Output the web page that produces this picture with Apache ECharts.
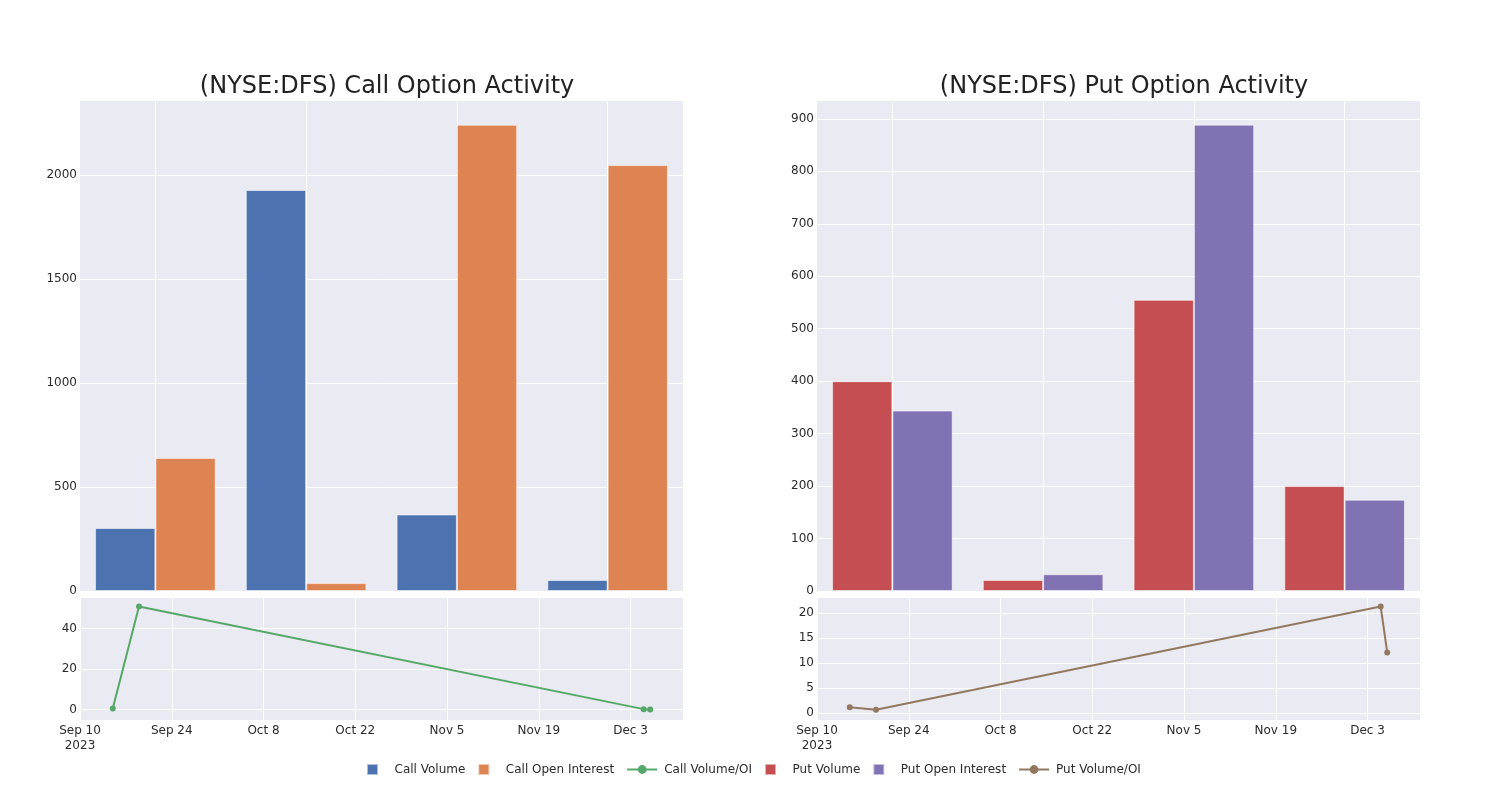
<!DOCTYPE html>
<html><head><meta charset="utf-8">
<script src="https://cdn.jsdelivr.net/npm/echarts@6/dist/echarts.min.js"></script>
<style>html,body{margin:0;padding:0;background:#fff}#c{width:1500px;height:800px}</style>
</head><body><div id="c"></div>
<script>
// ---- data ----
const groups = ['G1', 'G2', 'G3', 'G4'];
const callVolume = [303, 1928, 368, 53];
const callOpenInterest = [640, 38, 2242, 2048];
const putVolume = [400, 21, 555, 200];
const putOpenInterest = [344, 32, 889, 174];
const ratioDates = ['2023-09-15', '2023-09-19', '2023-12-05', '2023-12-06'];
const callVolOI = [0.47, 50.8, 0.16, 0.03];
const putVolOI = [1.15, 0.65, 21.3, 12.1];
const xStart = '2023-09-10';
const xEnd = '2023-12-11';
const titles = ['(NYSE:DFS) Call Option Activity', '(NYSE:DFS) Put Option Activity'];

// ---- build ----
const DAY = 86400000;
const ts = d => Date.parse(d + 'T00:00:00Z');
const MONTHS = ['Jan','Feb','Mar','Apr','May','Jun','Jul','Aug','Sep','Oct','Nov','Dec'];
const FONT = '"DejaVu Sans", sans-serif';
const BG = '#EAEAF2';
const TXT = '#2b2b2b';

const chart = echarts.init(document.getElementById('c'), null, {renderer: 'canvas'});

function dateLabel(v) {
  const d = new Date(v);
  const s = MONTHS[d.getUTCMonth()] + ' ' + d.getUTCDate();
  return v === ts(xStart) ? s + '\n' + d.getUTCFullYear() : s;
}

const grids = [
  {left: 80, width: 603, top: 100, height: 491},
  {left: 80, width: 603, top: 597, height: 123},
  {left: 817, width: 603, top: 100, height: 491},
  {left: 817, width: 603, top: 597, height: 123}
].map(g => Object.assign({backgroundColor: BG, show: true, borderWidth: 0, containLabel: false}, g));

const splitWhite = {show: true, lineStyle: {color: '#ffffff', width: 1}};
const lab = extra => Object.assign({color: TXT, fontSize: 12, fontFamily: FONT, margin: 3,
  showMaxLabel: false, formatter: v => String(v)}, extra || {});

const barX = gi => ({
  type: 'category', gridIndex: gi, data: groups, boundaryGap: true,
  axisLine: {show: false}, axisTick: {show: false, alignWithLabel: true}, axisLabel: {show: false},
  splitLine: Object.assign({alignWithLabel: true}, splitWhite)
});
const timeX = gi => ({
  type: 'value', gridIndex: gi, min: ts(xStart), max: ts(xEnd), interval: 14 * DAY,
  axisLine: {show: false}, axisTick: {show: false},
  axisLabel: lab({formatter: dateLabel, margin: 3, lineHeight: 15}),
  splitLine: splitWhite
});
const valY = (gi, o) => Object.assign({
  type: 'value', gridIndex: gi,
  axisLine: {show: false}, axisTick: {show: false},
  axisLabel: lab(),
  splitLine: splitWhite
}, o);

const barStyle = c => ({color: c, borderColor: 'rgba(255,255,255,0.55)', borderWidth: 1});
const lineSeries = (name, c, xi, vals) => ({
  name, type: 'line', xAxisIndex: xi, yAxisIndex: xi,
  data: ratioDates.map((d, i) => [ts(d), vals[i]]),
  symbol: 'circle', symbolSize: 6, showSymbol: true,
  lineStyle: {color: c, width: 2}, itemStyle: {color: c}
});

const sq = 'path://M0,0L10,0L10,10L0,10Z';

chart.setOption({
  animation: false,
  backgroundColor: '#ffffff',
  textStyle: {fontFamily: FONT},
  title: [
    {text: titles[0], left: '25.47%', top: 70, textAlign: 'center',
     textStyle: {fontSize: 24, fontWeight: 'normal', color: '#222', fontFamily: FONT}},
    {text: titles[1], left: '74.6%', top: 70, textAlign: 'center',
     textStyle: {fontSize: 24, fontWeight: 'normal', color: '#222', fontFamily: FONT}}
  ],
  legend: {
    bottom: 19, left: 361, itemWidth: 30, itemHeight: 11, itemGap: 12,
    textStyle: {fontSize: 12, color: TXT, fontFamily: FONT, padding: [0, 0, 0, 2]},
    data: [
      {name: 'Call Volume', icon: sq},
      {name: 'Call Open Interest', icon: sq},
      {name: 'Call Volume/OI'},
      {name: 'Put Volume', icon: sq},
      {name: 'Put Open Interest', icon: sq},
      {name: 'Put Volume/OI'}
    ]
  },
  grid: grids,
  xAxis: [barX(0), timeX(1), barX(2), timeX(3)],
  yAxis: [
    valY(0, {min: 0, max: 2361, interval: 500}),
    valY(1, {min: -5.2, max: 55.5, minInterval: 20, maxInterval: 20, axisLabel: lab({showMinLabel: false})}),
    valY(2, {min: 0, max: 936, interval: 100}),
    valY(3, {min: -1.4, max: 23.2, minInterval: 5, maxInterval: 5, axisLabel: lab({showMinLabel: false})})
  ],
  series: [
    {name: 'Call Volume', type: 'bar', xAxisIndex: 0, yAxisIndex: 0, data: callVolume,
     barGap: '0%', barCategoryGap: '20%', itemStyle: barStyle('#4C72B0')},
    {name: 'Call Open Interest', type: 'bar', xAxisIndex: 0, yAxisIndex: 0, data: callOpenInterest,
     barGap: '0%', barCategoryGap: '20%', itemStyle: barStyle('#DD8452')},
    lineSeries('Call Volume/OI', '#55A868', 1, callVolOI),
    {name: 'Put Volume', type: 'bar', xAxisIndex: 2, yAxisIndex: 2, data: putVolume,
     barGap: '0%', barCategoryGap: '20%', itemStyle: barStyle('#C44E52')},
    {name: 'Put Open Interest', type: 'bar', xAxisIndex: 2, yAxisIndex: 2, data: putOpenInterest,
     barGap: '0%', barCategoryGap: '20%', itemStyle: barStyle('#8172B3')},
    lineSeries('Put Volume/OI', '#937860', 3, putVolOI)
  ]
});
</script>
</body></html>
